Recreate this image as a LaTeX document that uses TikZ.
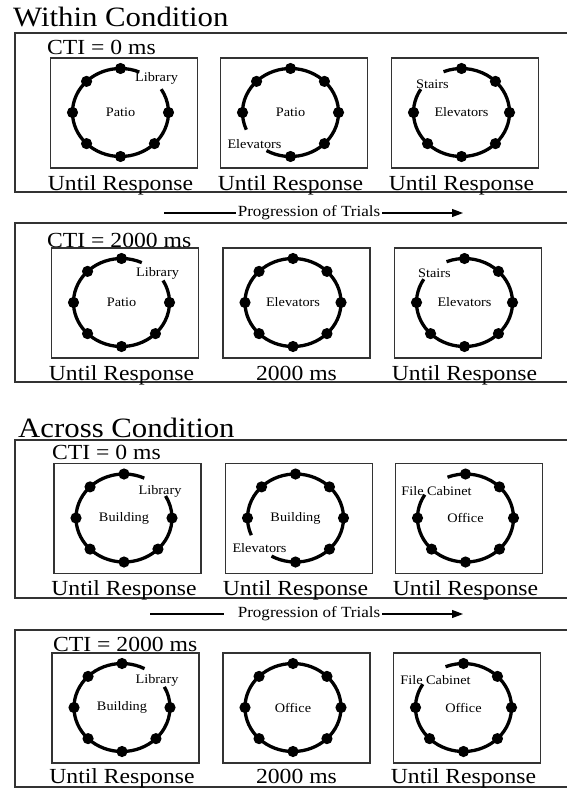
\documentclass[tikz,border=0pt]{standalone}
\usepackage{fontspec}
\setmainfont{Liberation Serif}[FakeStretch=1.1]
\usetikzlibrary{arrows.meta,calc}
\tikzset{
  panel/.style={draw=black!80, line width=1.3pt},
  screen/.style={draw=black!80, line width=1.1pt, minimum width=147pt, minimum height=110pt, inner sep=0pt},
  ring/.style={line width=3.3pt},
  heading/.style={anchor=base west, inner sep=0pt, font=\fontsize{28}{30}\selectfont},
  ctilabel/.style={anchor=base west, inner sep=0pt, font=\fontsize{21.5}{23}\selectfont},
  timing/.style={anchor=base, inner sep=0pt, font=\fontsize{21.5}{23}\selectfont},
  place/.style={inner sep=0pt, font=\fontsize{13}{14}\selectfont},
  progress/.style={inner sep=2pt, font=\fontsize{15.5}{17}\selectfont},
  arrow/.style={-{Triangle[length=11pt,width=8pt]}, line width=1.1pt}
}
% ring of locations: centre, gap start, gap end, angles of the dots
\newcommand{\ringdisplay}[4]{%
  \draw[ring] ($(#1)+(#3:48pt and 44pt)$) arc[start angle=#3, end angle=#2+360, x radius=48pt, y radius=44pt];
  \foreach \a in {#4} \fill ($(#1)+(\a:48pt and 44pt)$) circle[radius=5.6pt];
}
\begin{document}
\begin{tikzpicture}[x=1pt, y=-1pt]
  \useasboundingbox (0,0) rectangle (567,789);
  \clip (0,0) rectangle (567,789);

  % within condition
  \node[heading] (within) at (13,27) {Within Condition};
  \draw[panel] (575,33) -- (15,33) -- (15,192) -- (575,192);
  \node[ctilabel] (w1cti) at (47,55) {CTI = 0 ms};
  \node[screen] (w1a) at (124,113) {};
  \node[screen] (w1b) at (294,113) {};
  \node[screen] (w1c) at (465,113) {};
  \coordinate (w1ar) at (120.5,112.5);
  \coordinate (w1br) at (290.5,112.5);
  \coordinate (w1cr) at (461.5,112.5);
  \ringdisplay{w1ar}{32}{67}{0,90,135,180,225,270,315}
  \ringdisplay{w1br}{203}{240}{0,45,90,135,180,270,315}
  \ringdisplay{w1cr}{112}{148}{0,45,90,180,225,270,315}
  \node[place] (w1aroom) at (w1ar) {Patio};
  \node[place] (w1acue) at ($(w1ar)+(36,-34)$) {Library};
  \node[place] (w1broom) at (w1br) {Patio};
  \node[place] (w1bcue) at ($(w1br)+(-36,32)$) {Elevators};
  \node[place] (w1croom) at (w1cr) {Elevators};
  \node[place] (w1ccue) at ($(w1cr)+(-29,-28)$) {Stairs};
  \node[timing] (w1atime) at (120.5,190) {Until Response};
  \node[timing] (w1btime) at (290.5,190) {Until Response};
  \node[timing] (w1ctime) at (461.5,190) {Until Response};

  \coordinate (p1s) at (164,213);
  \coordinate (p1e) at (463,213);
  \node[progress] (prog1) at (309,213) {Progression of Trials};
  \draw[line width=1.1pt] (p1s) -- (prog1.west);
  \draw[arrow] (prog1.east) -- (p1e);

  \draw[panel] (575,223) -- (15,223) -- (15,382) -- (575,382);
  \node[ctilabel] (w2cti) at (47,247) {CTI = 2000 ms};
  \node[screen] (w2a) at (125,303) {};
  \node[screen] (w2b) at (296.5,303) {};
  \node[screen] (w2c) at (468,303) {};
  \coordinate (w2ar) at (121.5,302.5);
  \coordinate (w2br) at (293,302.5);
  \coordinate (w2cr) at (464.5,302.5);
  \ringdisplay{w2ar}{30}{65}{0,90,135,180,225,270,315}
  \ringdisplay{w2br}{0}{0}{0,45,...,315}
  \ringdisplay{w2cr}{112}{148}{0,45,90,180,225,270,315}
  \node[place] (w2aroom) at (w2ar) {Patio};
  \node[place] (w2acue) at ($(w2ar)+(36,-29)$) {Library};
  \node[place] (w2broom) at (w2br) {Elevators};
  \node[place] (w2croom) at (w2cr) {Elevators};
  \node[place] (w2ccue) at ($(w2cr)+(-30,-29)$) {Stairs};
  \node[timing] (w2atime) at (121.5,380) {Until Response};
  \node[timing] (w2btime) at (296.5,380) {2000 ms};
  \node[timing] (w2ctime) at (464.5,380) {Until Response};

  % across condition
  \node[heading] (across) at (18,437) {Across Condition};
  \draw[panel] (575,440) -- (15,440) -- (15,598) -- (575,598);
  \node[ctilabel] (a1cti) at (52,459) {CTI = 0 ms};
  \node[screen] (a1a) at (127.5,518.5) {};
  \node[screen] (a1b) at (299,518.5) {};
  \node[screen] (a1c) at (469,518.5) {};
  \coordinate (a1ar) at (124,518);
  \coordinate (a1br) at (295.5,518);
  \coordinate (a1cr) at (465.5,518);
  \ringdisplay{a1ar}{30}{65}{0,90,135,180,225,270,315}
  \ringdisplay{a1br}{203}{240}{0,45,90,135,180,270,315}
  \ringdisplay{a1cr}{112}{148}{0,45,90,180,225,270,315}
  \node[place] (a1aroom) at (a1ar) {Building};
  \node[place] (a1acue) at ($(a1ar)+(36,-27)$) {Library};
  \node[place] (a1broom) at (a1br) {Building};
  \node[place] (a1bcue) at ($(a1br)+(-36,30)$) {Elevators};
  \node[place] (a1croom) at (a1cr) {Office};
  \node[place] (a1ccue) at ($(a1cr)+(-29,-27)$) {File Cabinet};
  \node[timing] (a1atime) at (124,595) {Until Response};
  \node[timing] (a1btime) at (295.5,595) {Until Response};
  \node[timing] (a1ctime) at (465.5,595) {Until Response};

  \coordinate (p2s) at (150,614);
  \coordinate (p2e) at (463,614);
  \node[progress] (prog2) at (309,614) {Progression of Trials};
  \draw[line width=1.1pt] (p2s) -- ([xshift=-12pt]prog2.west);
  \draw[arrow] (prog2.east) -- (p2e);

  \draw[panel] (575,630) -- (15,630) -- (15,787) -- (575,787);
  \node[ctilabel] (a2cti) at (53,651) {CTI = 2000 ms};
  \node[screen] (a2a) at (125.5,708) {};
  \node[screen] (a2b) at (296.5,708) {};
  \node[screen] (a2c) at (467,708) {};
  \coordinate (a2ar) at (122,707.5);
  \coordinate (a2br) at (293,707.5);
  \coordinate (a2cr) at (463.5,707.5);
  \ringdisplay{a2ar}{28}{62}{0,90,135,180,225,270,315}
  \ringdisplay{a2br}{0}{0}{0,45,...,315}
  \ringdisplay{a2cr}{112}{148}{0,45,90,180,225,270,315}
  \node[place] (a2aroom) at (a2ar) {Building};
  \node[place] (a2acue) at ($(a2ar)+(35,-27)$) {Library};
  \node[place] (a2broom) at (a2br) {Office};
  \node[place] (a2croom) at (a2cr) {Office};
  \node[place] (a2ccue) at ($(a2cr)+(-28,-27)$) {File Cabinet};
  \node[timing] (a2atime) at (122,783) {Until Response};
  \node[timing] (a2btime) at (296.5,783) {2000 ms};
  \node[timing] (a2ctime) at (463.5,783) {Until Response};
\end{tikzpicture}
\end{document}
